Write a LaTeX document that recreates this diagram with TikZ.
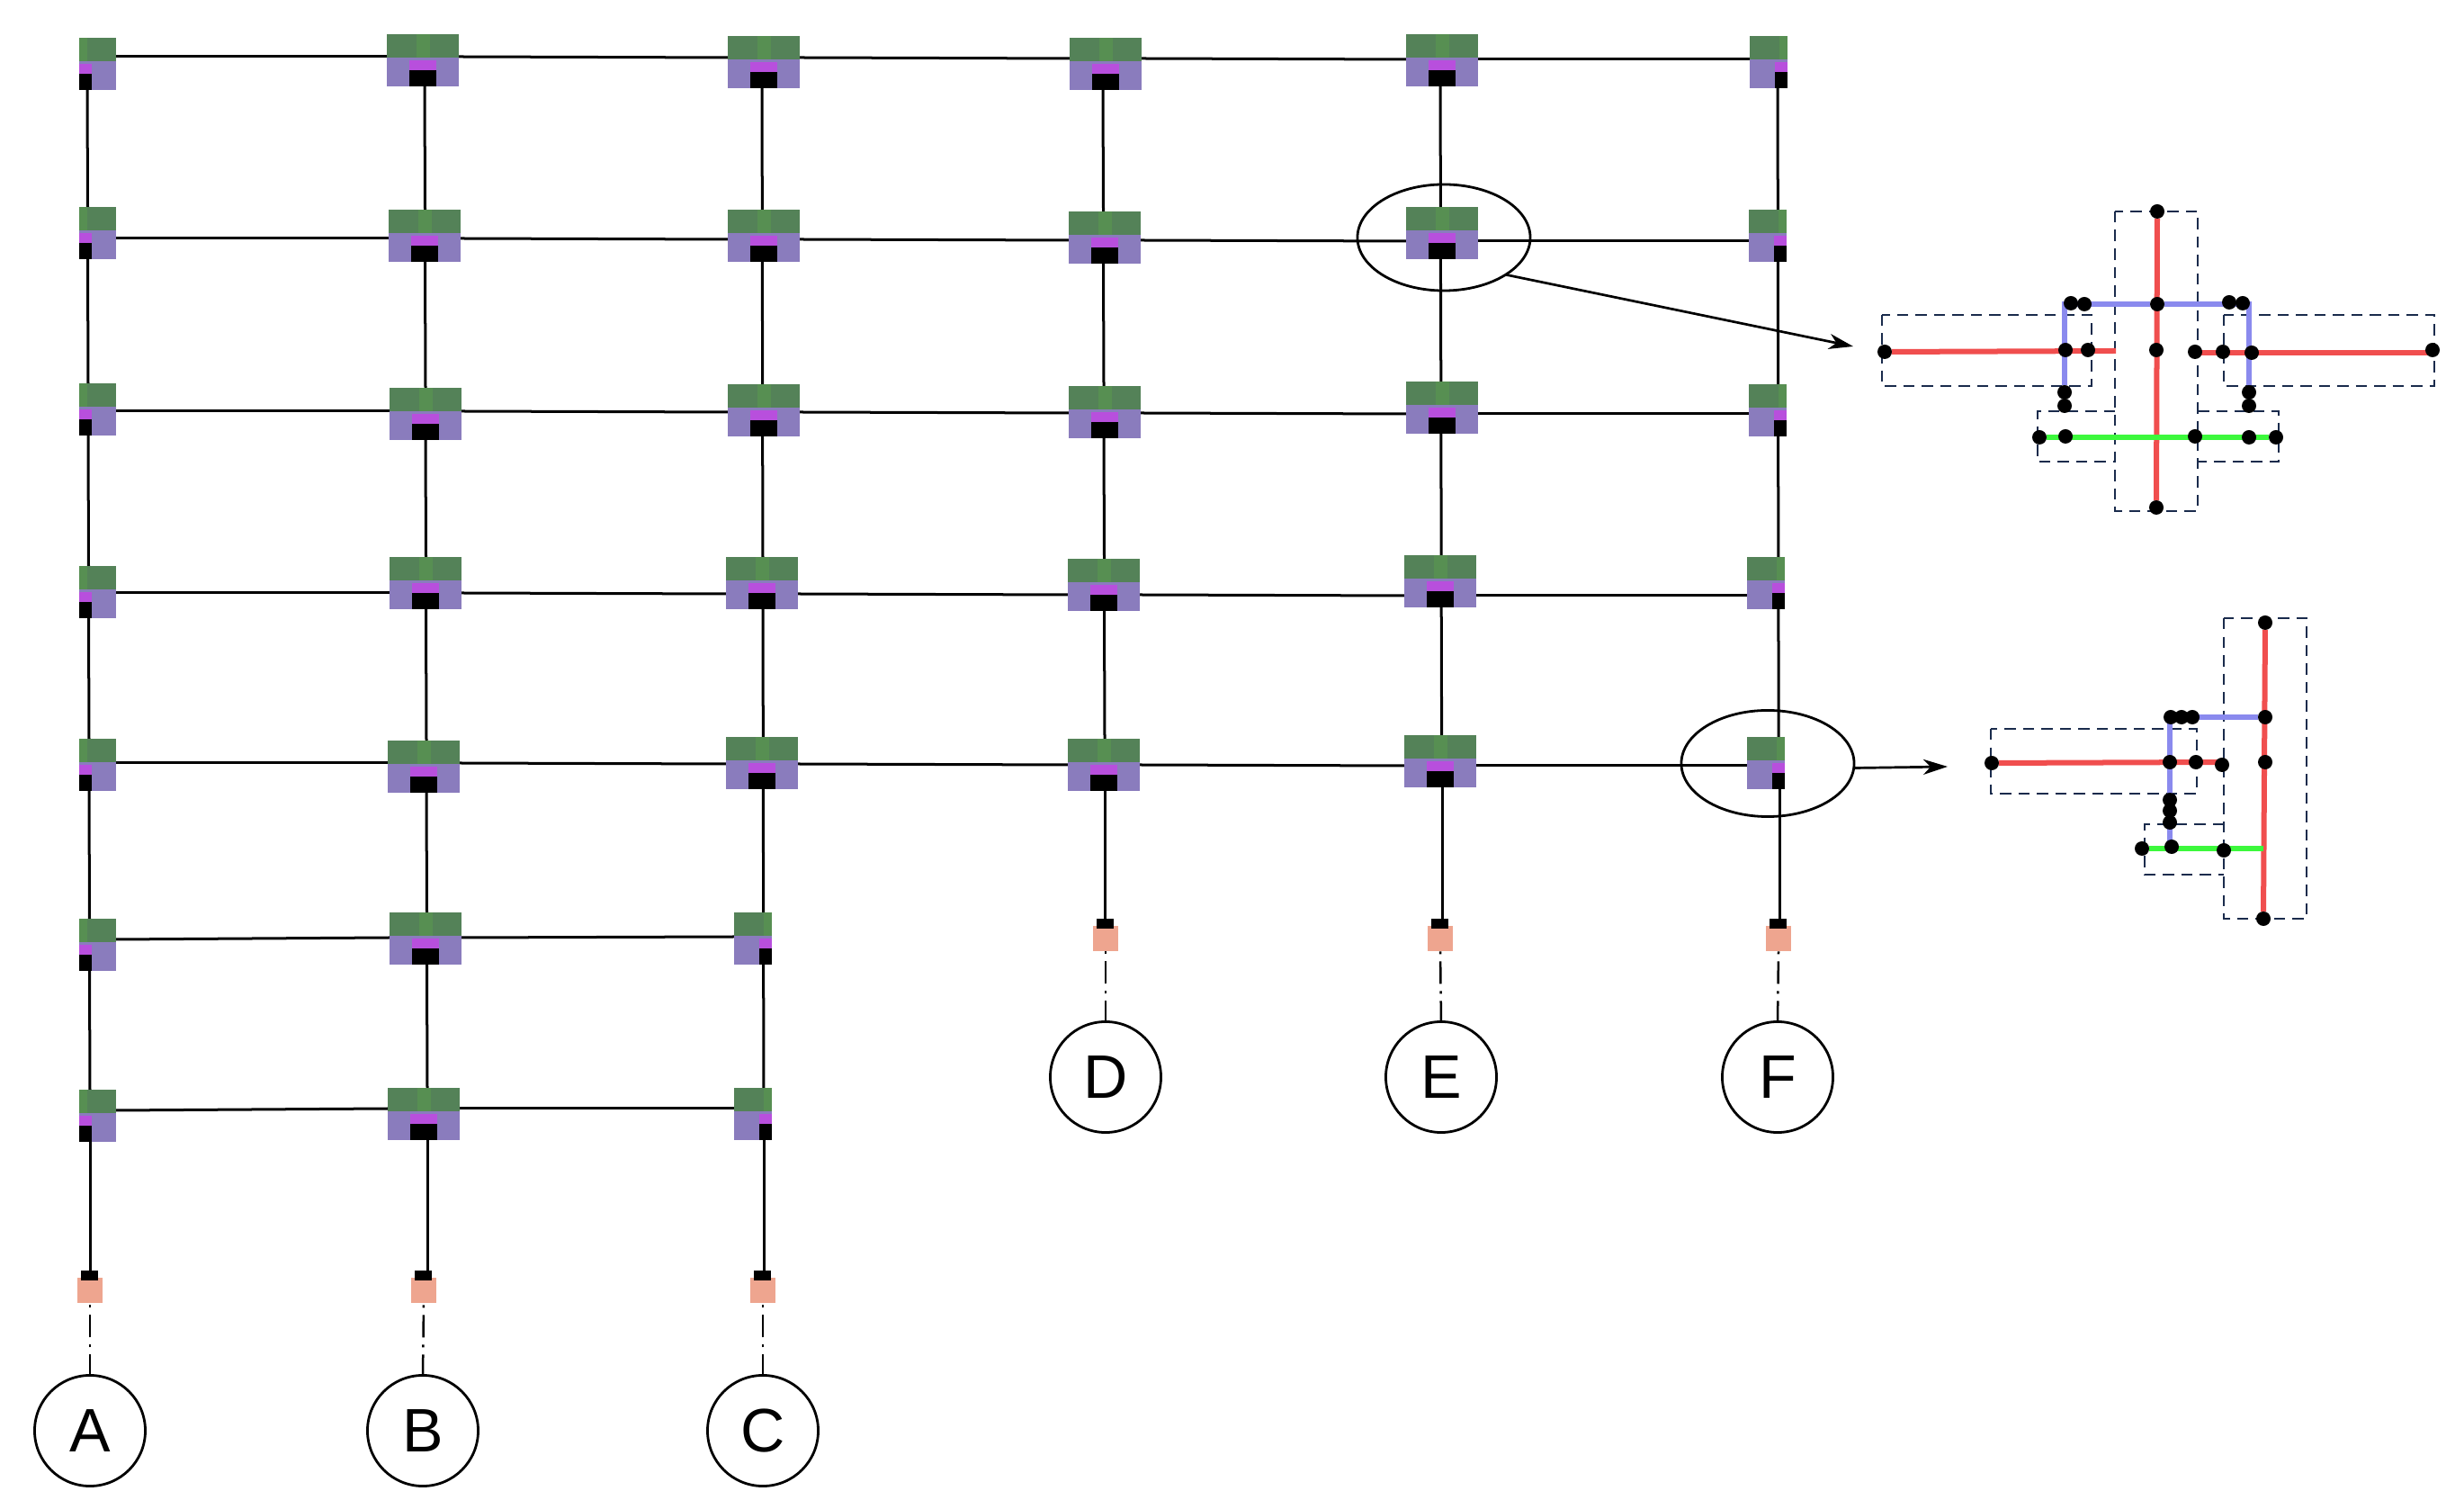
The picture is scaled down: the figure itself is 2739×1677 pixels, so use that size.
\documentclass[tikz,border=0pt]{standalone}
\usepackage{fontspec}
\setmainfont{Liberation Sans}
\usetikzlibrary{arrows.meta,backgrounds,shapes.geometric}
\definecolor{jointgreen}{RGB}{84,130,88}
\definecolor{bandgreen}{RGB}{87,143,82}
\definecolor{jointpurple}{RGB}{138,124,189}
\definecolor{jointpink}{RGB}{184,79,221}
\definecolor{footsalmon}{RGB}{238,165,143}
\definecolor{wirered}{RGB}{240,78,78}
\definecolor{wireblue}{RGB}{138,138,238}
\definecolor{wiregreen}{RGB}{60,248,60}
\definecolor{boxnavy}{RGB}{26,43,76}
\tikzset{
  jointnode/.style={rectangle, fill=jointpurple, inner sep=0pt, outer sep=0pt,
    minimum height=0.58cm, anchor=north west},
  footnode/.style={rectangle, fill=footsalmon, inner sep=0pt, outer sep=0pt,
    minimum size=0.28cm},
  axisnode/.style={circle, draw, line width=0.028cm, inner sep=0pt, outer sep=0pt,
    minimum size=1.23cm, font=\fontsize{19.4}{23}\selectfont},
  dotnode/.style={circle, fill=black, inner sep=0pt, outer sep=0pt, minimum size=0.16cm},
  zoomnode/.style={ellipse, draw, line width=0.028cm, inner sep=0pt, outer sep=0pt,
    minimum width=1.92cm, minimum height=1.18cm},
  frameline/.style={line width=0.03cm},
  axisline/.style={line width=0.025cm, dash pattern=on 0.25cm off 0.08cm on 0.03cm off 0.08cm, dash phase=0.02cm},
  zoomline/.style={-{Stealth[length=0.27cm, width=0.17cm, inset=0.08cm]}, line width=0.027cm},
  redwire/.style={wirered, line width=0.06cm},
  greenwire/.style={wiregreen, line width=0.06cm},
  bluewire/.style={wireblue, line width=0.055cm},
  dashbox/.style={boxnavy, line width=0.028cm, dash pattern=on 0.125cm off 0.08cm}
}
\newcommand{\jointbox}[8]{
  \node[jointnode, minimum width=#4*0.01cm] (#1) at (#2,#3) {};
  \fill[jointgreen] (#1.north west) rectangle ([shift={(#4,26)}]#1.north west);
  \fill[bandgreen] ([shift={(#5,0)}]#1.north west) rectangle ([shift={(#6,26)}]#1.north west);
  \fill[jointpink] ([shift={(#7,29)}]#1.north west) rectangle ([shift={(#8,40)}]#1.north west);
  \fill[black] ([shift={(#7,40)}]#1.north west) rectangle ([shift={(#8,58)}]#1.north west);
}
\begin{document}
\begin{tikzpicture}[x=0.01cm, y=-0.01cm]
  \useasboundingbox (0,0) rectangle (2739,1677);

  \foreach \n/\x/\y in {a1/88/42, a2/88/230, a3/88/426, a4/88/629, a5/88/821, a6/88/1021, a7/88/1211}
    {\jointbox{\n}{\x}{\y}{41}{0}{9}{0}{14}}
  \foreach \n/\x/\y in {b1/430/38, b2/432/233, b3/433/431, b4/433/619, b5/431/823, b6/433/1014, b7/431/1209,
    c1/809/40, c2/809/233, c3/809/427, c4/807/619, c5/807/819,
    d1/1189/42, d2/1188/235, d3/1188/429, d4/1187/621, d5/1187/821,
    e1/1563/38, e2/1563/230, e3/1563/424, e4/1561/617, e5/1561/817}
    {\jointbox{\n}{\x}{\y}{80}{33}{48}{25}{55}}
  \foreach \n/\x/\y in {c6/816/1014, c7/816/1209, f1/1945/40, f2/1944/233, f3/1944/427, f4/1942/619, f5/1942/819}
    {\jointbox{\n}{\x}{\y}{42}{33}{42}{28}{42}}

  \foreach \n/\x/\y in {A/100/1434, B/471/1434, C/848/1434, D/1229/1043, E/1601/1043, F/1977/1043} {
    \node[footnode] (foot\n) at (\x,\y) {};
    \fill[black] ([shift={(4,-8)}]foot\n.north west) rectangle ([shift={(23,3)}]foot\n.north west);
  }
  \foreach \n/\x/\y in {A/100/1590, B/470/1590, C/848/1590, D/1229/1197, E/1602/1197, F/1976/1197}
    {\node[axisnode] (axis\n) at (\x,\y) {\n};}

  \node[zoomnode] (zoomE) at (1605,264) {};
  \node[zoomnode] (zoomF) at (1965,848.5) {};
  \coordinate (detailE) at (2060,385);
  \coordinate (detailF) at (2165,852);
  \draw[zoomline] (zoomE.-31) -- (detailE);
  \draw[zoomline] (zoomF.-3) -- (detailF);

  \foreach \n/\x/\y in {pt/2398/235, pb/2397/564, pc/2398/338, pm/2397/389,
    pl1/2095/391, pl2/2296/389, pl3/2321/389, pr1/2440/391, pr2/2471/391, pr3/2503/392, pr4/2704/389,
    pu1/2302/337, pu2/2317/338, pu3/2478/336, pu4/2493/337,
    ps1/2295/436, ps2/2295/451, ps3/2500/436, ps4/2500/451,
    pg1/2267/486, pg2/2296/485, pg3/2440/485, pg4/2500/486, pg5/2530/486,
    tt/2518/692, tb/2516/1021, tc/2518/797, tm/2518/847,
    tl1/2214/848, tl2/2412/847, tl3/2441/847, tl4/2470/850,
    tu1/2413/797, tu2/2425/797, tu3/2437/797,
    ts1/2412/889, ts2/2412/901, ts3/2412/914,
    tg1/2381/943, tg2/2414/941, tg3/2472/945}
    {\node[dotnode] (\n) at (\x,\y) {};}
  \coordinate (plend) at (2352,390);
  \coordinate (tlend) at (2465,847);
  \coordinate (tgend) at (2516,943);

  \begin{scope}[on background layer]
    \foreach \i/\y in {1/63, 2/265, 3/457, 4/659, 5/848}
      \foreach \l/\r/\p/\q in {a/b/0/0, b/c/0/1, c/d/1/2, d/e/2/3, e/f/3/3} {
        \pgfmathsetmacro\ya{\y+\p}
        \pgfmathsetmacro\yb{\y+\q}
        \draw[frameline] (\l\i.east |- 0,\ya) -- (\r\i.west |- 0,\yb);
      }
    \draw[frameline] (a6.east |- 0,1044) -- (b6.west |- 0,1042);
    \draw[frameline] (b6.east |- 0,1042) -- (c6.west |- 0,1041);
    \draw[frameline] (a7.east |- 0,1234) -- (b7.west |- 0,1232);
    \draw[frameline] (b7.east |- 0,1232) -- (c7.west |- 0,1232);

    \foreach \c/\x/\d/\m in {a/97/0.5/7, b/472/0.5/7, c/847/0.33/7, d/1226/0.5/5, e/1601/0.4/5, f/1976/0.3/5}
      \foreach \i in {2,...,\m} {
        \pgfmathtruncatemacro\p{\i-1}
        \pgfmathsetmacro\xa{\x+\d*(\i-2)}
        \pgfmathsetmacro\xb{\x+\d*(\i-1)}
        \draw[frameline] (\c\p.south -| \xa,0) -- (\c\i.north -| \xb,0);
      }
    \foreach \n/\f/\x in {a7/footA/100, b7/footB/475, c7/footC/849, d5/footD/1228, e5/footE/1603, f5/footF/1978}
      \draw[frameline] (\n.south -| \x,0) -- (\f.north -| \x,0);
    \foreach \n in {A,B,C,D,E,F}
      \draw[axisline] (axis\n.north) -- (foot\n.south);

    \draw[dashbox] (2092,350) rectangle (2325,429);
    \draw[dashbox] (2472,350) rectangle (2706,429);
    \draw[dashbox] (2351,235) rectangle (2443,568);
    \draw[dashbox] (2351,457) -- (2265,457) -- (2265,513) -- (2351,513);
    \draw[dashbox] (2443,457) -- (2533,457) -- (2533,513) -- (2443,513);
    \draw[dashbox] (2213,810) rectangle (2442,882);
    \draw[dashbox] (2472,687) rectangle (2564,1021);
    \draw[dashbox] (2472,916) -- (2384,916) -- (2384,972) -- (2472,972);

    \draw[redwire] (pt) -- (pb);
    \draw[redwire] (pl1) -- (plend);
    \draw[redwire] (pr1 |- pr3) -- (pr4 |- pr3);
    \draw[bluewire] (ps1) |- (pc) -| (ps3);
    \draw[greenwire] (pg1) -- (pg5);

    \draw[redwire] (tt) -- (tb);
    \draw[redwire] (tl1) -- (tlend);
    \draw[greenwire] (tg1) -- (tgend);
    \draw[bluewire] (tl2 |- tg2) |- (tc);
  \end{scope}
\end{tikzpicture}
\end{document}
